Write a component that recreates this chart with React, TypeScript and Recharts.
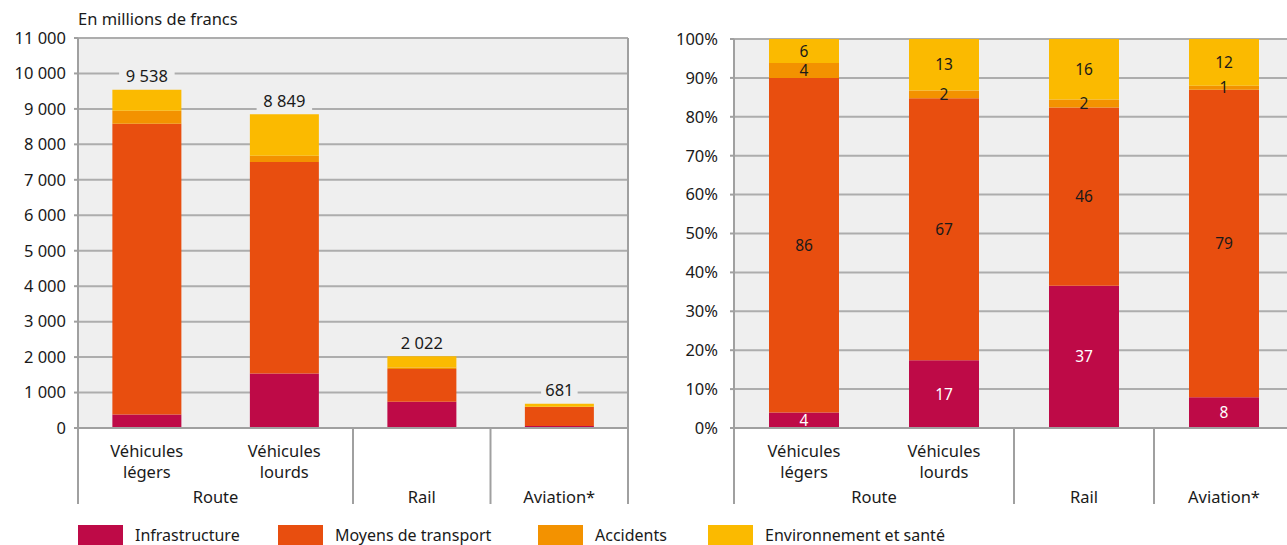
import React from 'react';
import { BarChart, Bar, XAxis, YAxis, CartesianGrid, LabelList } from 'recharts';

// ---- data ----
const categories = ['Véhicules légers', 'Véhicules lourds', 'Rail', 'Aviation*'];
const subLabels: string[][] = [['Véhicules', 'légers'], ['Véhicules', 'lourds'], [], []];
const groups = ['Route', 'Route', 'Rail', 'Aviation*'];

const infrastructure = [380, 1540, 740, 54];
const transport = [8204, 5960, 926, 538];
const accidents = [363, 180, 42, 7];
const environment = [591, 1169, 314, 82];

const leftTicks = [0, 1000, 2000, 3000, 4000, 5000, 6000, 7000, 8000, 9000, 10000, 11000];
const rightTicks = [0, 10, 20, 30, 40, 50, 60, 70, 80, 90, 100];

const seriesNames = ['Infrastructure', 'Moyens de transport', 'Accidents', 'Environnement et santé'];

// ---- style ----
const COLORS = ['#BE0A47', '#E84E0F', '#F39200', '#FBBA00'];
const BG = '#EFEFEF';
const GRID = '#ADADAD';
const AXIS = '#A0A0A0';
const TEXT = '#1a1a1a';
const FONT = '"Noto Sans", sans-serif';

const totals = categories.map((_, i) => infrastructure[i] + transport[i] + accidents[i] + environment[i]);

const absData = categories.map((name, i) => ({
  name,
  infra: infrastructure[i],
  transport: transport[i],
  accidents: accidents[i],
  env: environment[i],
}));

const pctData = categories.map((name, i) => ({
  name,
  infra: (infrastructure[i] / totals[i]) * 100,
  transport: (transport[i] / totals[i]) * 100,
  accidents: (accidents[i] / totals[i]) * 100,
  env: (environment[i] / totals[i]) * 100,
}));

const fmtThousands = (v: number) => String(v).replace(/\B(?=(\d{3})+(?!\d))/g, ' ');

const makeCatTick = (catW: number) => (props: any) => {
  const { x, y, payload } = props;
  const index = props.index ?? payload.index;
  const lines = subLabels[index] || [];
  const g = groups[index];
  const isGroupStart = index === 0 || groups[index - 1] !== g;
  const isGroupEnd = index === groups.length - 1 || groups[index + 1] !== g;
  let span = 1;
  if (isGroupStart) {
    let j = index + 1;
    while (j < groups.length && groups[j] === g) { span++; j++; }
  }
  const left = x - catW / 2;
  const right = x + catW / 2;
  const lineBottom = y + 76;
  return (
    <g>
      {lines.map((l, k) => (
        <text key={k} x={x} y={y + 22 + k * 21} textAnchor="middle" dominantBaseline="central" fill={TEXT} fontSize={16.5}>
          {l}
        </text>
      ))}
      {isGroupStart && (
        <text x={left + (span * catW) / 2} y={y + 68} textAnchor="middle" dominantBaseline="central" fill={TEXT} fontSize={16.5}>
          {g}
        </text>
      )}
      {index === 0 && <line x1={left} x2={left} y1={y} y2={lineBottom} stroke={AXIS} strokeWidth={2} />}
      {isGroupEnd && <line x1={right} x2={right} y1={y} y2={lineBottom} stroke={AXIS} strokeWidth={2} />}
    </g>
  );
};

const TotalLabel = (props: any) => {
  const { x, y, width, index } = props;
  const t = fmtThousands(totals[index]);
  const cx = Number(x) + Number(width) / 2;
  const cy = Number(y) - 14;
  const w = t.length * 9.5 + 8;
  return (
    <g>
      <rect x={cx - w / 2} y={cy - 10} width={w} height={20} fill={BG} />
      <text x={cx} y={cy} textAnchor="middle" dominantBaseline="central" fill={TEXT} fontSize={16.5}>
        {t}
      </text>
    </g>
  );
};

const keys = ['infra', 'transport', 'accidents', 'env'];

const LeftChart = () => (
  <BarChart width={640} height={545} data={absData} margin={{ top: 38, right: 0, bottom: 0, left: 0 }} barCategoryGap="25%">
    <CartesianGrid vertical={false} fill={BG} fillOpacity={1} stroke={GRID} strokeWidth={2} />
    <XAxis
      dataKey="name"
      height={117}
      interval={0}
      tickLine={false}
      tickSize={0}
      tickMargin={0}
      axisLine={{ stroke: AXIS, strokeWidth: 2 }}
      tick={makeCatTick(137.5)}
    />
    <YAxis
      width={78}
      domain={[0, 11000]}
      ticks={leftTicks}
      interval={0}
      tickFormatter={fmtThousands}
      axisLine={{ stroke: AXIS, strokeWidth: 2 }}
      tickLine={{ stroke: AXIS, strokeWidth: 2 }}
      tickSize={4}
      tickMargin={8}
      tick={{ fill: TEXT, fontSize: 16.5 }}
    />
    <YAxis yAxisId="r" orientation="right" width={12} domain={[0, 1]} tick={false} tickLine={false} axisLine={{ stroke: AXIS, strokeWidth: 2 }} />
    {keys.map((k, i) => (
      <Bar key={k} dataKey={k} stackId="a" fill={COLORS[i]} isAnimationActive={false}>
        {k === 'env' && <LabelList dataKey="env" content={TotalLabel} />}
      </Bar>
    ))}
  </BarChart>
);

const RightChart = () => (
  <BarChart width={664} height={545} data={pctData} margin={{ top: 39, right: 10, bottom: 0, left: 0 }} barCategoryGap="25%">
    <CartesianGrid vertical={false} fill={BG} fillOpacity={1} stroke={GRID} strokeWidth={2} />
    <XAxis
      dataKey="name"
      height={117}
      interval={0}
      tickLine={false}
      tickSize={0}
      tickMargin={0}
      axisLine={{ stroke: AXIS, strokeWidth: 2 }}
      tick={makeCatTick(140)}
    />
    <YAxis
      width={94}
      domain={[0, 100]}
      ticks={rightTicks}
      interval={0}
      allowDataOverflow
      tickFormatter={(v: number) => `${Math.round(v)}%`}
      axisLine={{ stroke: AXIS, strokeWidth: 2 }}
      tickLine={{ stroke: AXIS, strokeWidth: 2 }}
      tickSize={4}
      tickMargin={12}
      tick={{ fill: TEXT, fontSize: 16.5 }}
    />
    {keys.map((k, i) => (
      <Bar key={k} dataKey={k} stackId="a" fill={COLORS[i]} isAnimationActive={false}>
        <LabelList
          dataKey={k}
          position="center"
          formatter={(v: any) => Math.round(Number(v))}
          fill={i === 0 ? '#ffffff' : TEXT}
          fontSize={15.5}
        />
      </Bar>
    ))}
  </BarChart>
);

const legendX = [78, 278, 538, 708];

export default function App() {
  return (
    <div
      style={{
        position: 'fixed',
        left: 0,
        top: 0,
        width: 1287,
        height: 545,
        overflow: 'hidden',
        background: '#ffffff',
        fontFamily: FONT,
        color: TEXT,
      }}
    >
      <div style={{ position: 'absolute', left: 78, top: 9, fontSize: 16.5, lineHeight: '20px' }}>En millions de francs</div>
      <div style={{ position: 'absolute', left: 0, top: 0 }}>
        <LeftChart />
      </div>
      <div style={{ position: 'absolute', left: 640, top: 0 }}>
        <RightChart />
      </div>
      {seriesNames.map((n, i) => (
        <div key={n} style={{ position: 'absolute', left: legendX[i], top: 525, display: 'flex', alignItems: 'center', height: 20 }}>
          <div style={{ width: 45, height: 20, background: COLORS[i] }} />
          <span style={{ marginLeft: 12, fontSize: 16, lineHeight: '20px' }}>{n}</span>
        </div>
      ))}
    </div>
  );
}
